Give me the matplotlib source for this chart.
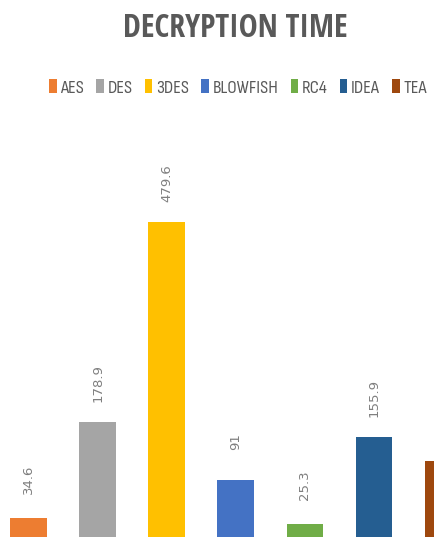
import matplotlib
matplotlib.use("Agg")
from matplotlib import pyplot as plt
from matplotlib.patches import Patch

# values
algorithms = ["AES", "DES", "3DES", "BLOWFISH", "RC4", "IDEA", "TEA"]
decrypt_time = [34.6, 178.9, 479.6, 91, 25.3, 155.9, 120.3]
bar_colors = ["#ED7D31", "#A5A5A5", "#FFC000", "#4472C4", "#70AD47", "#255E91", "#9E480E"]

narrow = ["Open Sans Condensed", "Archivo Narrow", "DejaVu Sans"]
legend_font = ["Sofia Sans Condensed", "Archivo Narrow", "DejaVu Sans"]

fig = plt.figure(figsize=(4.35, 5.37), dpi=100)
ax = fig.add_axes([0, 0, 1, 0.795])

x = range(len(algorithms))
bars = ax.bar(x, decrypt_time, width=0.53, color=bar_colors)

# rotated value labels above each bar
for xi, v in zip(x, decrypt_time):
    ax.annotate(f"{v:g}", (xi, v), xytext=(0, 28), textcoords="offset points",
                rotation=90, ha="center", va="center", fontsize=9.5,
                color="#7F7F7F", family="DejaVu Sans")

ax.set_xlim(-0.412, 5.883)
ax.set_ylim(6.0, 648)
ax.axis("off")

fig.text(0.541, 0.947, "DECRYPTION TIME", ha="center", va="center",
         fontsize=23, fontweight="bold", color="#595959", family=narrow)

handles = [Patch(facecolor=c, label=a) for a, c in zip(algorithms, bar_colors)]
fig.legend(handles=handles, loc="center", bbox_to_anchor=(0.547, 0.837), ncol=7,
           frameon=False, handlelength=0.4, handleheight=0.75, handletextpad=0.2,
           columnspacing=0.65, borderpad=0, prop={"family": legend_font, "size": 13.5},
           labelcolor="#595959")

plt.savefig("out.png", dpi=100)
